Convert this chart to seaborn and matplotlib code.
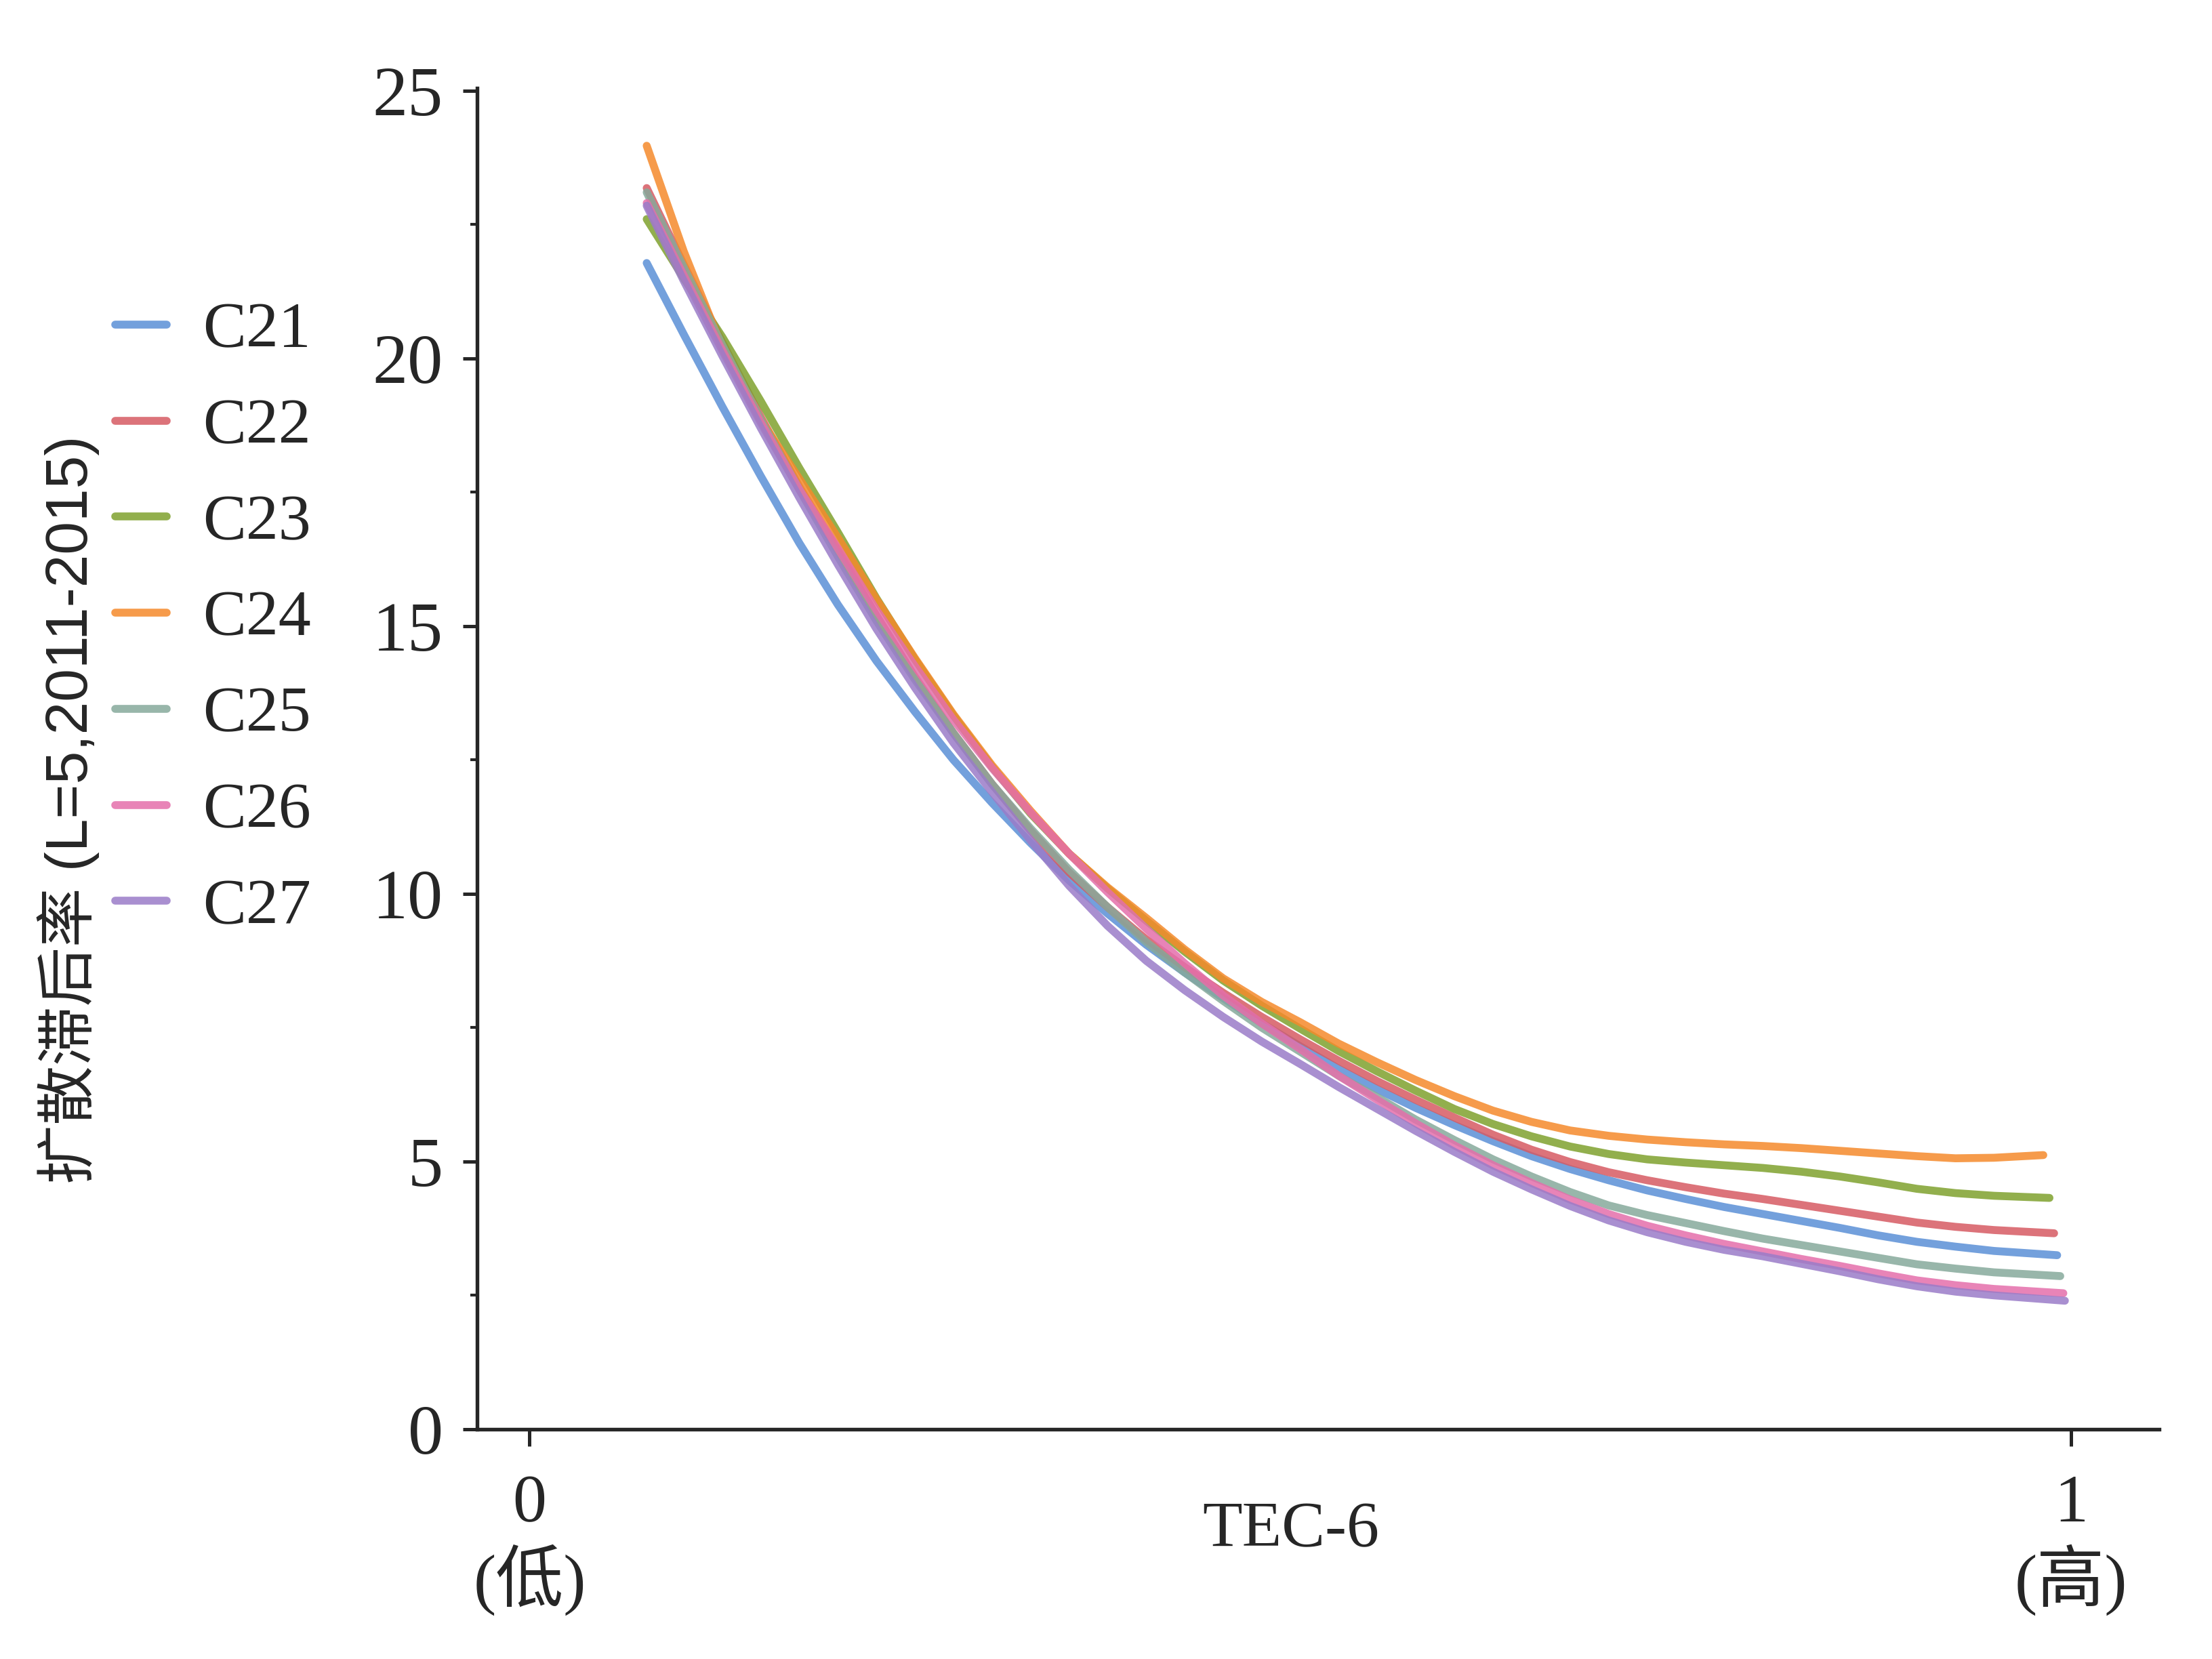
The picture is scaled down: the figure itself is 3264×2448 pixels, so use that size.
import pandas as pd
import matplotlib.pyplot as plt
import seaborn as sns

# TEC-6 positions (last point of each curve is in x_end)
x_grid = [0.076, 0.1, 0.125, 0.15, 0.175, 0.2, 0.225, 0.25, 0.275, 0.3,
          0.325, 0.35, 0.375, 0.4, 0.425, 0.45, 0.475, 0.5, 0.525, 0.55,
          0.575, 0.6, 0.625, 0.65, 0.675, 0.7, 0.725, 0.75, 0.775, 0.8,
          0.825, 0.85, 0.875, 0.9, 0.925, 0.95]

series_names = ["C21", "C22", "C23", "C24", "C25", "C26", "C27"]
x_end = [0.991, 0.989, 0.986, 0.982, 0.993, 0.995, 0.996]

c21 = [21.78, 20.45, 19.1, 17.8, 16.55, 15.4, 14.35, 13.4, 12.5, 11.7,
       10.95, 10.25, 9.63, 9.05, 8.53, 8.05, 7.58, 7.15, 6.73, 6.35,
       6.0, 5.68, 5.38, 5.1, 4.86, 4.65, 4.46, 4.3, 4.15, 4.02,
       3.89, 3.76, 3.62, 3.5, 3.41, 3.33, 3.25]
c22 = [23.18, 21.75, 20.3, 18.9, 17.6, 16.4, 15.2, 14.05, 13.0, 12.05,
       11.18, 10.4, 9.75, 9.15, 8.63, 8.15, 7.7, 7.28, 6.88, 6.5,
       6.15, 5.82, 5.5, 5.22, 4.99, 4.8, 4.65, 4.52, 4.4, 4.3,
       4.19, 4.08, 3.97, 3.86, 3.78, 3.72, 3.66]
c23 = [22.6, 21.5, 20.4, 19.2, 17.95, 16.75, 15.52, 14.38, 13.33, 12.37,
       11.5, 10.75, 10.1, 9.5, 8.92, 8.38, 7.91, 7.48, 7.06, 6.68,
       6.32, 5.98, 5.7, 5.47, 5.28, 5.14, 5.04, 4.98, 4.93, 4.88,
       4.81, 4.72, 4.61, 4.49, 4.41, 4.36, 4.32]
c24 = [23.97, 22.0, 20.2, 18.85, 17.75, 16.65, 15.5, 14.4, 13.35, 12.4,
       11.55, 10.75, 10.12, 9.55, 8.96, 8.42, 7.98, 7.6, 7.2, 6.85,
       6.52, 6.22, 5.95, 5.74, 5.58, 5.48, 5.41, 5.36, 5.32, 5.29,
       5.25, 5.2, 5.15, 5.1, 5.06, 5.07, 5.12]
c25 = [23.1, 21.7, 20.25, 18.85, 17.55, 16.3, 15.1, 14.0, 13.0, 12.05,
       11.22, 10.45, 9.75, 9.1, 8.53, 8.0, 7.5, 7.05, 6.6, 6.2,
       5.78, 5.4, 5.04, 4.72, 4.43, 4.18, 4.0, 3.85, 3.7, 3.56,
       3.44, 3.32, 3.2, 3.08, 3.0, 2.93, 2.86]
c26 = [22.9, 21.55, 20.15, 18.8, 17.55, 16.45, 15.3, 14.25, 13.25, 12.35,
       11.52, 10.75, 10.03, 9.35, 8.7, 8.1, 7.58, 7.1, 6.6, 6.15,
       5.71, 5.3, 4.93, 4.6, 4.29, 4.02, 3.8, 3.62, 3.46, 3.32,
       3.18, 3.05, 2.91, 2.78, 2.69, 2.62, 2.54]
c27 = [22.85, 21.45, 20.05, 18.7, 17.4, 16.15, 14.95, 13.85, 12.82, 11.9,
       11.0, 10.15, 9.4, 8.75, 8.2, 7.7, 7.24, 6.82, 6.39, 5.98,
       5.57, 5.18, 4.81, 4.48, 4.17, 3.9, 3.68, 3.5, 3.35, 3.23,
       3.09, 2.95, 2.8, 2.67, 2.57, 2.5, 2.4]

colors = ["#5b8fd6", "#d65a63", "#7fa12e", "#f58a2b", "#86a99b", "#e46fab", "#9a7cc8"]

x_ticks = [0, 1]
x_ticklabels = ["0\n(低)", "1\n(高)"]
y_ticks = [0, 5, 10, 15, 20, 25]


def build_frame():
    rows = []
    for name, ys, xe in zip(series_names, [c21, c22, c23, c24, c25, c26, c27], x_end):
        xs = x_grid + [xe]
        for x, y in zip(xs, ys):
            rows.append({"x": x, "y": y, "series": name})
    return pd.DataFrame(rows)


def main():
    df = build_frame()

    sns.set_style("ticks")
    serif = ["Liberation Serif", "Noto Sans CJK SC"]
    plt.rcParams["font.family"] = serif
    plt.rcParams["axes.linewidth"] = 1.3

    fig = plt.figure(figsize=(10.88, 8.16), dpi=300)
    ax = fig.add_axes([0.2157, 0.1385, 0.976 - 0.2157, 0.947 - 0.1385])

    sns.lineplot(data=df, x="x", y="y", hue="series", palette=colors,
                 linewidth=2.8, alpha=0.85, sort=False, ax=ax)
    for line in ax.lines:
        line.set_solid_capstyle("round")
        line.set_solid_joinstyle("round")

    ax.set_xlim(-0.034, 1.057)
    ax.set_ylim(0, 25.05)
    sns.despine(ax=ax)

    ax.set_xticks(x_ticks)
    ax.set_xticklabels(x_ticklabels, fontsize=24, family=serif, linespacing=1.15)
    ax.set_yticks(y_ticks)
    ax.set_yticks([2.5, 7.5, 12.5, 17.5, 22.5], minor=True)
    ax.tick_params(axis="y", which="major", direction="out", length=5, width=1.2,
                   labelsize=25, pad=7)
    ax.tick_params(axis="y", which="minor", direction="out", length=2.5, width=1.0)
    ax.tick_params(axis="x", which="major", direction="out", length=6, width=1.2, pad=10)

    ax.set_xlabel("TEC-6", fontsize=23, family=serif)
    ax.xaxis.set_label_coords(0.484, -0.054)
    ax.set_ylabel("扩散滞后率 (L=5,2011-2015)", fontsize=21,
                  family=["Liberation Sans", "Noto Sans CJK SC"])
    ax.yaxis.set_label_coords(-0.243, 0.462)
    ax.yaxis.label.set_va("center")

    handles, labels = ax.get_legend_handles_labels()
    leg = ax.legend(handles, labels, loc="upper left", bbox_to_anchor=(0.052, 0.818),
                    bbox_transform=fig.transFigure, frameon=False, fontsize=23,
                    handlelength=0.8, handletextpad=0.55, labelspacing=0.57,
                    borderpad=0, borderaxespad=0, title=None)
    for h in leg.get_lines():
        h.set_linewidth(2.8)

    plt.savefig("out.png", dpi=300)
    plt.close()


if __name__ == "__main__":
    main()
